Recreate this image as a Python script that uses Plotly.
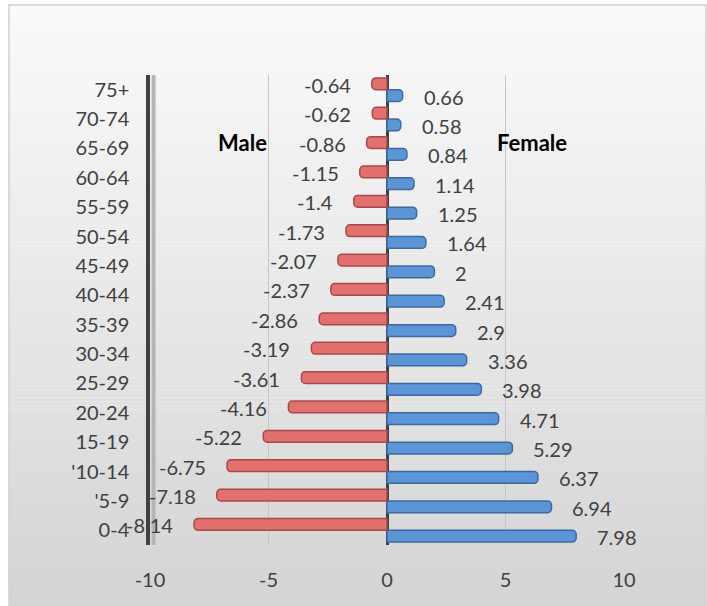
import plotly.graph_objects as go

# ---- data ----
age_groups = ["0-4", "'5-9", "'10-14", "15-19", "20-24", "25-29", "30-34", "35-39",
              "40-44", "45-49", "50-54", "55-59", "60-64", "65-69", "70-74", "75+"]
male = [-8.14, -7.18, -6.75, -5.22, -4.16, -3.61, -3.19, -2.86,
        -2.37, -2.07, -1.73, -1.4, -1.15, -0.86, -0.62, -0.64]
female = [7.98, 6.94, 6.37, 5.29, 4.71, 3.98, 3.36, 2.9,
          2.41, 2, 1.64, 1.25, 1.14, 0.84, 0.58, 0.66]
x_ticks = [-10, -5, 0, 5, 10]

W, H = 707, 606
FONT = "Lato, 'Open Sans', sans-serif"
TXT = "#404040"

pos = list(range(len(age_groups)))
bw = 0.4

fig = go.Figure()
fig.add_trace(go.Bar(
    y=pos, x=female, orientation="h", name="Female",
    width=bw, offset=-bw,
    marker=dict(color="#5B95D6", line=dict(color="#3B6AA3", width=1.5), cornerradius=4),
))
fig.add_trace(go.Bar(
    y=pos, x=male, orientation="h", name="Male",
    width=bw, offset=0,
    marker=dict(color="#E2706D", line=dict(color="#A54A48", width=1.5), cornerradius=4),
))

annotations = []
for i, v in enumerate(male):
    annotations.append(dict(x=v, y=i + bw / 2, xref="x", yref="y", text=f"{v:g}",
                            showarrow=False, xanchor="right", xshift=-19, yshift=-1,
                            font=dict(family=FONT, size=20, color=TXT)))
for i, v in enumerate(female):
    annotations.append(dict(x=v, y=i - bw / 2, xref="x", yref="y", text=f"{v:g}",
                            showarrow=False, xanchor="left", xshift=19, yshift=-1,
                            font=dict(family=FONT, size=20, color=TXT)))
annotations.append(dict(x=-6.1, y=13.2, xref="x", yref="y", text="<b>Male</b>", showarrow=False,
                        font=dict(family=FONT, size=22, color="#000000")))
annotations.append(dict(x=6.1, y=13.2, xref="x", yref="y", text="<b>Female</b>", showarrow=False,
                        font=dict(family=FONT, size=22, color="#000000")))

# background gradient inside the chart border
shapes = []
x0p, x1p = 9 / W, 706 / W
ytop = 1 - 5 / H
n = 150
c_top, c_bot = 250, 212
for k in range(n):
    ya = ytop - k * ytop / n
    yb = ytop - (k + 1.05) * ytop / n
    c = round(c_top + (c_bot - c_top) * (k + 0.5) / n)
    shapes.append(dict(type="rect", xref="paper", yref="paper", x0=x0p, x1=x1p, y0=yb, y1=ya,
                       line=dict(width=0), fillcolor=f"rgb({c},{c},{c})", layer="below"))
shapes.append(dict(type="rect", xref="paper", yref="paper", x0=x0p, x1=x1p, y0=-0.03, y1=ytop,
                   line=dict(color="#CFCFCF", width=1.5), fillcolor="rgba(0,0,0,0)", layer="below"))
# shadow of the thick left axis line
shapes.append(dict(type="line", xref="x", yref="y", x0=-9.85, x1=-9.85, y0=-0.55, y1=15.55,
                   line=dict(color="#B5B5B5", width=4), layer="below"))

fig.update_layout(
    width=W, height=H,
    margin=dict(l=0, r=0, t=0, b=0),
    paper_bgcolor="#FFFFFF",
    plot_bgcolor="rgba(0,0,0,0)",
    barmode="overlay",
    showlegend=False,
    font=dict(family=FONT, size=20, color=TXT),
    annotations=annotations,
    shapes=shapes,
    xaxis=dict(
        domain=[150 / W, 624 / W],
        range=[-10, 10], tickvals=x_ticks, ticktext=[str(t) for t in x_ticks],
        showgrid=True, gridcolor="#C6C6C6", gridwidth=1,
        zeroline=True, zerolinecolor="#404040", zerolinewidth=2.5,
        ticks="outside", ticklen=17, tickcolor="rgba(0,0,0,0)",
        showline=False, automargin=False,
        tickfont=dict(family=FONT, size=20, color=TXT),
    ),
    yaxis=dict(
        domain=[(H - 545) / H, (H - 75) / H],
        range=[-0.5, 15.5], tickvals=pos, ticktext=age_groups,
        showgrid=False, zeroline=False,
        showline=True, linecolor="#404040", linewidth=3.5,
        ticks="outside", ticklen=13, tickcolor="rgba(0,0,0,0)",
        automargin=False,
        tickfont=dict(family=FONT, size=20, color=TXT),
    ),
)

fig.write_html("out.html", config={"displayModeBar": False},
               post_script="document.body.style.margin='0';document.body.style.overflow='hidden';")
